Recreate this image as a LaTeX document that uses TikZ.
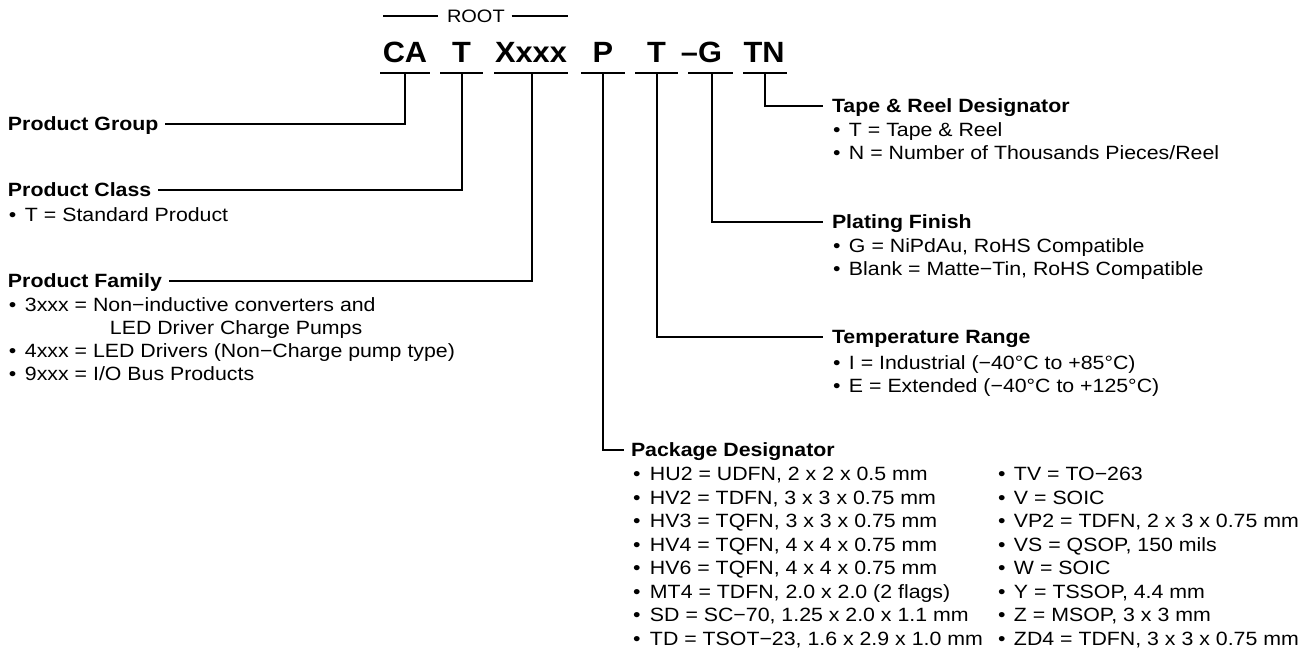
\documentclass[tikz,border=0pt]{standalone}
\usepackage{fontspec}
\setmainfont{Liberation Sans}[FakeStretch=1.11]
\newfontfamily\titlefont{Liberation Sans}[FakeStretch=1.05]
\newcommand\bu[1][16pt]{\makebox[#1][l]{•}}
\begin{document}
\begin{tikzpicture}[x=1pt,y=-1pt,line width=1.3pt,
  every node/.style={inner sep=0pt,outer sep=0pt},
  head/.style={font=\fontsize{19.2}{23.7}\selectfont\bfseries,anchor=west,text height=13.7pt,text depth=0pt},
  lst/.style={font=\fontsize{19.2}{23}\selectfont,anchor=base west,align=left},
  pkg/.style={font=\fontsize{19.2}{23.5}\selectfont,anchor=base west,align=left},
  code/.style={font=\titlefont\bfseries\fontsize{29.3}{30}\selectfont,anchor=base},
  rootlbl/.style={font=\fontsize{18}{20}\selectfont,anchor=west,text height=12.9pt,text depth=0pt},
  uline/.style={line width=1.3pt}]
\useasboundingbox (0,0) rectangle (1314,668);
% ROOT
\node[rootlbl] (root) at (447,16) {ROOT};
\coordinate (rootL) at (383,16);
\coordinate (rootR) at (568,16);
\draw ([xshift=-9pt]root.west) -- (rootL);
\draw ([xshift=7pt]root.east) -- (rootR);
% code letters
\node[code] (cCA) at (405,63) {CA};
\node[code] (cT) at (461.5,63) {T};
\node[code] (cX) at (531,63) {Xxxx};
\node[code] (cP) at (603,63) {P};
\node[code] (cT2) at (656.5,63) {T};
\node[code] (cG) at (710,63) {\llap{–}G};
\node[code] (cTN) at (764,63) {TN};
\coordinate (uCA) at (405,73);
\coordinate (uT) at (462,73);
\coordinate (uX) at (532,73);
\coordinate (uP) at (603,73);
\coordinate (uT2) at (657,73);
\coordinate (uG) at (712,73);
\coordinate (uTN) at (765,73);
\draw[uline] ([xshift=-25pt]uCA) -- ([xshift=25pt]uCA);
\draw[uline] ([xshift=-22pt]uT) -- ([xshift=21pt]uT);
\draw[uline] ([xshift=-38pt]uX) -- ([xshift=36pt]uX);
\draw[uline] ([xshift=-22pt]uP) -- ([xshift=22pt]uP);
\draw[uline] ([xshift=-22pt]uT2) -- ([xshift=21pt]uT2);
\draw[uline] ([xshift=-24pt]uG) -- ([xshift=21pt]uG);
\draw[uline] ([xshift=-22pt]uTN) -- ([xshift=22pt]uTN);
% left side
\node[head] (pg) at (8,124) {Product Group};
\node[head] (pc) at (8,190) {Product Class};
\node[lst] (pcl) at (9,221.8) {\bu T = Standard Product};
\node[head] (pf) at (8,281) {Product Family};
\node[lst] (pfl) at (9,380.8) {\bu 3xxx = Non−inductive converters and\\
\hspace*{101pt}LED Driver Charge Pumps\\
\bu 4xxx = LED Drivers (Non−Charge pump type)\\
\bu 9xxx = I/O Bus Products};
% right side
\node[head] (tr) at (832,106) {Tape \& Reel Designator};
\node[lst] (trl) at (833,159.8) {\bu T = Tape \& Reel\\
\bu N = Number of Thousands Pieces/Reel};
\node[head] (pl) at (832,222) {Plating Finish};
\node[lst] (pll) at (833,275.8) {\bu G = NiPdAu, RoHS Compatible\\
\bu Blank = Matte−Tin, RoHS Compatible};
\node[head] (tm) at (832,337) {Temperature Range};
\node[lst] (tml) at (833,392.8) {\bu I = Industrial (−40°C to +85°C)\\
\bu E = Extended (−40°C to +125°C)};
\node[head] (pk) at (631,450) {Package Designator};
\node[pkg] (pkl) at (633,645.3) {\bu[17pt]HU2 = UDFN, 2 x 2 x 0.5 mm\\
\bu[17pt]HV2 = TDFN, 3 x 3 x 0.75 mm\\
\bu[17pt]HV3 = TQFN, 3 x 3 x 0.75 mm\\
\bu[17pt]HV4 = TQFN, 4 x 4 x 0.75 mm\\
\bu[17pt]HV6 = TQFN, 4 x 4 x 0.75 mm\\
\bu[17pt]MT4 = TDFN, 2.0 x 2.0 (2 flags)\\
\bu[17pt]SD = SC−70, 1.25 x 2.0 x 1.1 mm\\
\bu[17pt]TD = TSOT−23, 1.6 x 2.9 x 1.0 mm};
\node[pkg] (pkr) at (998,645.3) {\bu TV = TO−263\\
\bu V = SOIC\\
\bu VP2 = TDFN, 2 x 3 x 0.75 mm\\
\bu VS = QSOP, 150 mils\\
\bu W = SOIC\\
\bu Y = TSSOP, 4.4 mm\\
\bu Z = MSOP, 3 x 3 mm\\
\bu ZD4 = TDFN, 3 x 3 x 0.75 mm};
% connectors
\draw (uCA) |- ([xshift=7pt]pg.east);
\draw (uT) |- ([xshift=7pt]pc.east);
\draw (uX) |- ([xshift=7pt]pf.east);
\draw (uP) |- ([xshift=-7pt]pk.west);
\draw (uT2) |- ([xshift=-9pt]tm.west);
\draw (uG) |- ([xshift=-9pt]pl.west);
\draw (uTN) |- ([xshift=-9pt]tr.west);
\end{tikzpicture}
\end{document}
